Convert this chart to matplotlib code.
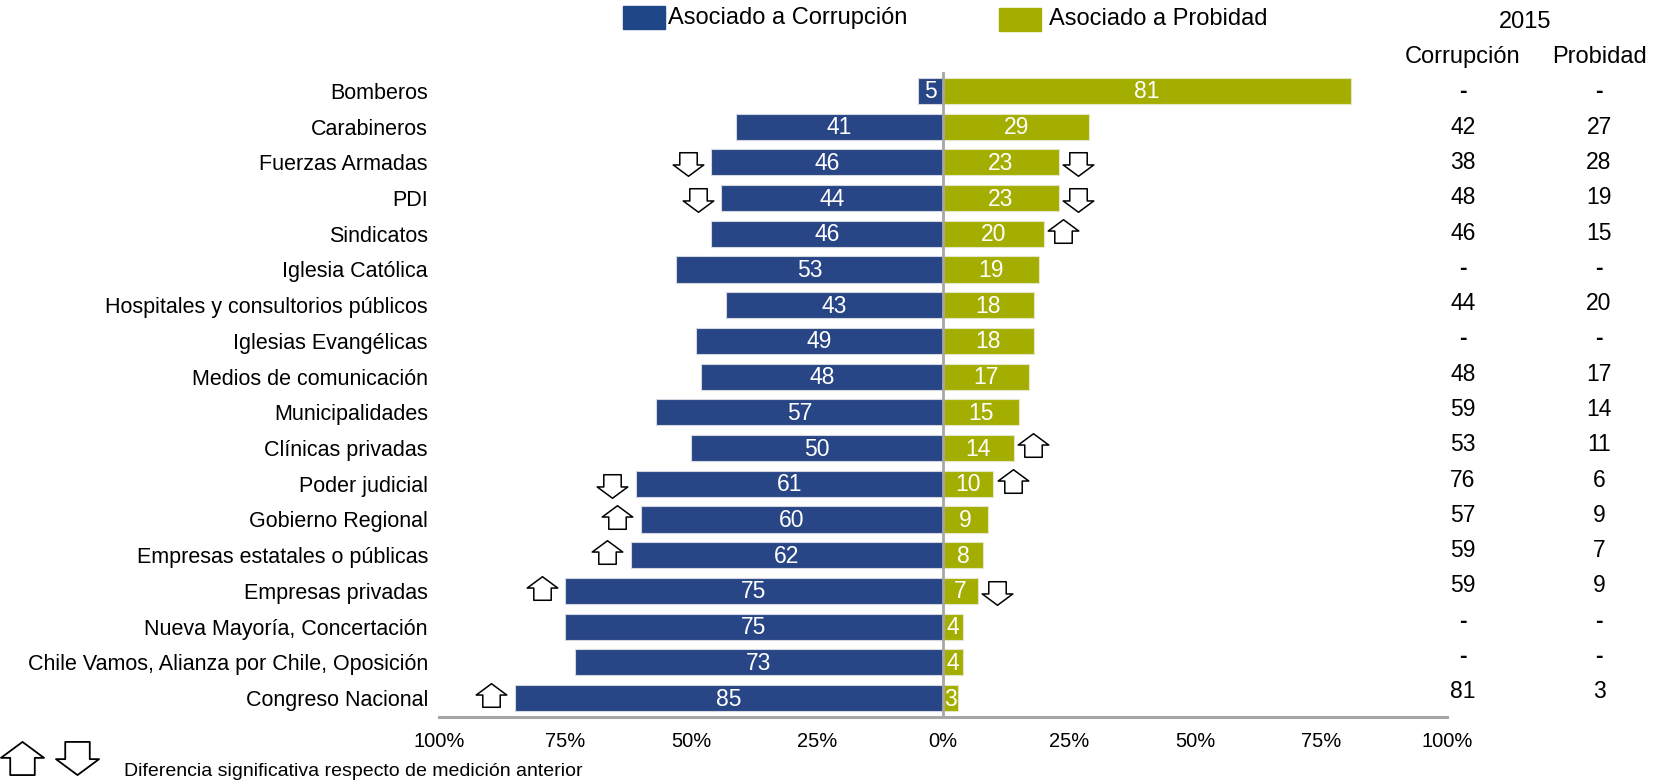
import matplotlib
matplotlib.use("Agg")
import matplotlib.pyplot as plt
from matplotlib.path import Path
from matplotlib.patches import Rectangle
from matplotlib.transforms import blended_transform_factory
import numpy as np

plt.rcParams['font.family'] = ['Liberation Sans', 'DejaVu Sans']

categories = ["Bomberos", "Carabineros", "Fuerzas Armadas", "PDI", "Sindicatos",
              "Iglesia Católica", "Hospitales y consultorios públicos",
              "Iglesias Evangélicas", "Medios de comunicación", "Municipalidades",
              "Clínicas privadas", "Poder judicial", "Gobierno Regional",
              "Empresas estatales o públicas", "Empresas privadas",
              "Nueva Mayoría, Concertación",
              "Chile Vamos, Alianza por Chile, Oposición", "Congreso Nacional"]
corrupcion = [5, 41, 46, 44, 46, 53, 43, 49, 48, 57, 50, 61, 60, 62, 75, 75, 73, 85]
probidad = [81, 29, 23, 23, 20, 19, 18, 18, 17, 15, 14, 10, 9, 8, 7, 4, 4, 3]
corr_change = [None, None, "down", "down", None, None, None, None, None, None,
               None, "down", "up", "up", "up", None, None, "up"]
prob_change = [None, None, "down", "down", "up", None, None, None, None, None,
               "up", "up", None, None, "down", None, None, None]
corr_2015 = ["-", "42", "38", "48", "46", "-", "44", "-", "48", "59", "53", "76",
             "57", "59", "59", "-", "-", "81"]
prob_2015 = ["-", "27", "28", "19", "15", "-", "20", "-", "17", "14", "11", "6",
             "9", "7", "9", "-", "-", "3"]
xticks = [-100, -75, -50, -25, 0, 25, 50, 75, 100]
xticklabels = ["100%", "75%", "50%", "25%", "0%", "25%", "50%", "75%", "100%"]

BLUE = "#284585"
LEG_BLUE = "#1f4788"
OLIVE = "#a4ae00"
GRAY = "#a6a6a6"

W, H = 1662, 782
fig = plt.figure(figsize=(W / 100, H / 100), dpi=100)
ax = fig.add_axes([439 / W, 1 - 717 / H, 1008 / W, 645 / H])

y = np.arange(len(categories))
corr = np.array(corrupcion)
prob = np.array(probidad)

ax.barh(y, -corr, height=0.73, color=BLUE, edgecolor="#d3d7e0", linewidth=0.8, zorder=2)
ax.barh(y, prob, height=0.73, color=OLIVE, edgecolor="#e3e6c8", linewidth=0.8, zorder=2)

for i in range(len(categories)):
    ax.text(-corr[i] / 2, i + 0.03, str(corr[i]), color="white", ha="center",
            va="center", fontsize=16.5, zorder=3)
    ax.text(prob[i] / 2, i + 0.03, str(prob[i]), color="white", ha="center",
            va="center", fontsize=16.5, zorder=3)

ax.axvline(0, color=GRAY, lw=2.0, zorder=4)

ax.set_xlim(-100, 100)
ax.set_ylim(len(categories) - 0.47, -0.53)
ax.set_yticks(y)
ax.set_yticklabels(categories, fontsize=15.5)
ax.set_xticks(xticks)
ax.set_xticklabels(xticklabels, fontsize=14.5)
ax.tick_params(axis="both", length=0)
ax.tick_params(axis="y", pad=8)
ax.tick_params(axis="x", pad=11)
for s in ["top", "right", "left"]:
    ax.spines[s].set_visible(False)
ax.spines["bottom"].set_color(GRAY)
ax.spines["bottom"].set_linewidth(2.2)

# arrow markers
hw = 0.57
up_verts = [(-hw, -0.77), (hw, -0.77), (hw, 0.03), (1, 0.03), (0, 0.77),
            (-1, 0.03), (-hw, 0.03), (-hw, -0.77)]
down_verts = [(vx, -vy) for vx, vy in up_verts]
codes = [Path.MOVETO] + [Path.LINETO] * 6 + [Path.CLOSEPOLY]
up_path = Path(up_verts, codes)
down_path = Path(down_verts, codes)
MS = 22

for i in range(len(categories)):
    c = corr_change[i]
    if c:
        dy = -0.08 if c == "up" else 0.05
        ax.plot(-corr[i] - 4.6, i + dy, marker=up_path if c == "up" else down_path,
                markersize=MS, markerfacecolor="white", markeredgecolor="black",
                markeredgewidth=1.1, clip_on=False, zorder=5)
    p = prob_change[i]
    if p:
        dy = -0.08 if p == "up" else 0.05
        ax.plot(prob[i] + 3.8, i + dy, marker=up_path if p == "up" else down_path,
                markersize=MS, markerfacecolor="white", markeredgecolor="black",
                markeredgewidth=1.1, clip_on=False, zorder=5)

# 2015 table
tr = blended_transform_factory(fig.transFigure, ax.transData)
for i in range(len(categories)):
    for xc, val in ((1463, corr_2015[i]), (1599, prob_2015[i])):
        ax.text(xc / W, i * 0.988 + 0.03, val, transform=tr, ha="center",
                va="center", fontsize=16.5, clip_on=False,
                fontweight="bold" if val == "-" else "normal")
fig.text(1525 / W, 1 - 22 / H, "2015", ha="center", va="center", fontsize=17)
fig.text(1463 / W, 1 - 57 / H, "Corrupción", ha="center", va="center", fontsize=17)
fig.text(1599 / W, 1 - 57 / H, "Probidad", ha="center", va="center", fontsize=17)

# legend
fig.patches.append(Rectangle((623 / W, 1 - 29 / H), 42 / W, 23 / H,
                             transform=fig.transFigure, color=LEG_BLUE))
fig.text(668 / W, 1 - 18 / H, "Asociado a Corrupción", ha="left", va="center",
         fontsize=17)
fig.patches.append(Rectangle((999 / W, 1 - 31 / H), 42 / W, 23 / H,
                             transform=fig.transFigure, color=OLIVE))
fig.text(1049 / W, 1 - 19 / H, "Asociado a Probidad", ha="left", va="center",
         fontsize=17)

# footnote
fig.lines.append(plt.Line2D([22 / W], [1 - 758 / H], transform=fig.transFigure,
                            marker=up_path, markersize=31, markerfacecolor="white",
                            markeredgecolor="black", markeredgewidth=1.3))
fig.lines.append(plt.Line2D([77 / W], [1 - 758 / H], transform=fig.transFigure,
                            marker=down_path, markersize=31, markerfacecolor="white",
                            markeredgecolor="black", markeredgewidth=1.3))
fig.text(124 / W, 1 - 772 / H, "Diferencia significativa respecto de medición anterior",
         ha="left", va="center", fontsize=14)

fig.savefig("out.png", dpi=100)
